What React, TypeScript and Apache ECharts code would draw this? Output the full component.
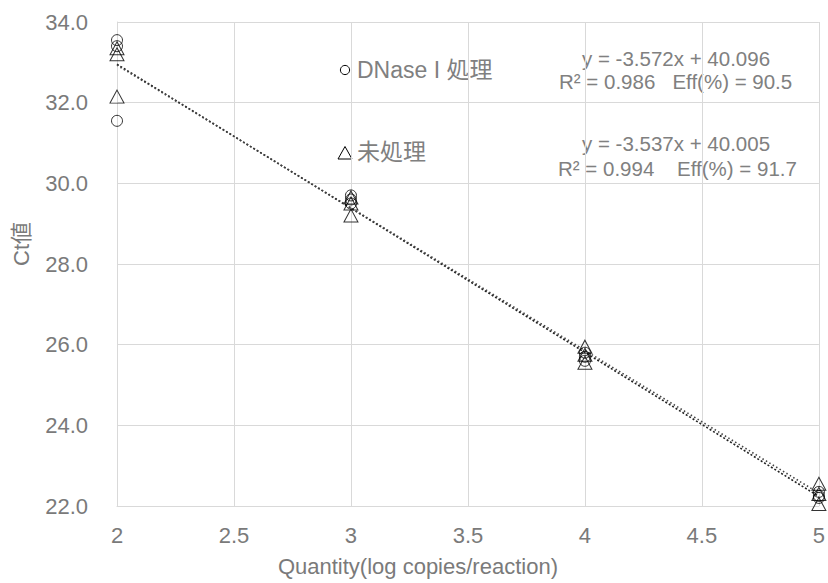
import React, { useEffect, useRef } from "react";
import * as echarts from "echarts";

const xTicks = [2, 2.5, 3, 3.5, 4, 4.5, 5];
const yTicks = [22, 24, 26, 28, 30, 32, 34];

const dnaseX = [2, 2, 2, 3, 3, 3, 4, 4, 4, 5, 5, 5];
const dnaseY = [33.55, 33.4, 31.55, 29.7, 29.6, 29.5, 25.8, 25.7, 25.6, 22.35, 22.25, 22.2];

const untreatedX = [2, 2, 2, 3, 3, 3, 4, 4, 4, 5, 5, 5];
const untreatedY = [33.35, 33.2, 32.15, 29.65, 29.5, 29.2, 25.95, 25.75, 25.55, 22.55, 22.3, 22.05];

const dnaseFit = { slope: -3.572, intercept: 40.096 };
const untreatedFit = { slope: -3.537, intercept: 40.005 };
const fitRange = [2, 5];

const dnaseEq = ["y = -3.572x + 40.096", "R² = 0.986   Eff(%) = 90.5"];
const untreatedEq = ["y = -3.537x + 40.005", "R² = 0.994    Eff(%) = 91.7"];

const legendNames = ["DNase I 処理", "未処理"];

const FONT = "'Liberation Sans', Arial, 'Noto Sans CJK JP', sans-serif";
const GRAY = "#7a7a7a";
const TGRAY = "#808080";

function fitLine(f: { slope: number; intercept: number }) {
  return fitRange.map((x) => [x, f.slope * x + f.intercept]);
}

export default function App() {
  const ref = useRef<HTMLDivElement>(null);
  useEffect(() => {
    if (!ref.current) return;
    const chart = echarts.init(ref.current, null, { renderer: "svg" });
    const marker = {
      color: "rgba(0,0,0,0)",
      borderColor: "#000",
      borderWidth: 1,
    };
    const eqStyle = { fill: TGRAY, fontSize: 20.5, fontFamily: FONT, align: "left", verticalAlign: "middle" };
    chart.setOption({
      animation: false,
      backgroundColor: "#fff",
      textStyle: { fontFamily: FONT },
      grid: { left: 117, right: 8, top: 22, bottom: 77, containLabel: false },
      xAxis: {
        type: "value",
        min: 2,
        max: 5,
        interval: 0.5,
        name: "Quantity(log copies/reaction)",
        nameLocation: "middle",
        nameGap: 49,
        nameTextStyle: { color: GRAY, fontSize: 22, fontFamily: FONT, padding: [0, 100, 0, 0] },
        axisLine: { show: true, lineStyle: { color: "#d9d9d9" } },
        axisTick: { show: false },
        axisLabel: {
          color: GRAY,
          fontSize: 22,
          margin: 18,
          fontFamily: FONT,
          formatter: (v: number) => (xTicks.includes(v) ? String(v) : ""),
        },
        splitLine: { show: true, lineStyle: { color: "#d9d9d9" } },
      },
      yAxis: {
        type: "value",
        min: 22,
        max: 34,
        interval: 2,
        name: "Ct値",
        nameLocation: "middle",
        nameGap: 85,
        nameRotate: 90,
        nameTextStyle: { color: GRAY, fontSize: 22, fontFamily: FONT, padding: [0, 0, 0, 40] },
        axisLine: { show: true, lineStyle: { color: "#d9d9d9" } },
        axisTick: { show: false },
        axisLabel: {
          color: GRAY,
          fontSize: 22,
          margin: 29,
          fontFamily: FONT,
          formatter: (v: number) => (yTicks.includes(v) ? v.toFixed(1) : ""),
        },
        splitLine: { show: true, lineStyle: { color: "#d9d9d9" } },
      },
      series: [
        {
          type: "line",
          data: fitLine(dnaseFit),
          showSymbol: false,
          symbol: "none",
          lineStyle: { color: "#222", width: 1.6, type: [2, 2] },
          z: 3,
        },
        {
          type: "line",
          data: fitLine(untreatedFit),
          showSymbol: false,
          symbol: "none",
          lineStyle: { color: "#444", width: 1.6, type: [1.5, 2.5] },
          z: 3,
        },
        {
          type: "scatter",
          name: legendNames[0],
          symbol: "circle",
          symbolSize: 11,
          itemStyle: marker,
          data: dnaseX.map((x, i) => [x, dnaseY[i]]),
          z: 4,
        },
        {
          type: "scatter",
          name: legendNames[1],
          symbol: "triangle",
          symbolSize: [14, 13],
          itemStyle: marker,
          data: untreatedX.map((x, i) => [x, untreatedY[i]]),
          z: 4,
        },
      ],
      graphic: [
        {
          type: "circle",
          shape: { cx: 345, cy: 70, r: 4.6 },
          style: { fill: "none", stroke: "#000", lineWidth: 1 },
        },
        {
          type: "text",
          x: 357,
          y: 70,
          style: { text: legendNames[0], fill: TGRAY, fontSize: 23, fontFamily: FONT, verticalAlign: "middle" },
        },
        {
          type: "polygon",
          shape: { points: [[345, 146.5], [338, 159], [352, 159]] },
          style: { fill: "none", stroke: "#000", lineWidth: 1 },
        },
        {
          type: "text",
          x: 357,
          y: 152,
          style: { text: legendNames[1], fill: TGRAY, fontSize: 23, fontFamily: FONT, verticalAlign: "middle" },
        },
        { type: "text", x: 582, y: 58, style: { ...eqStyle, text: dnaseEq[0] } },
        { type: "text", x: 559, y: 81, style: { ...eqStyle, text: dnaseEq[1] } },
        { type: "text", x: 582, y: 143, style: { ...eqStyle, text: untreatedEq[0] } },
        { type: "text", x: 558, y: 168, style: { ...eqStyle, text: untreatedEq[1] } },
      ],
    });
    return () => chart.dispose();
  }, []);
  return <div ref={ref} style={{ width: 828, height: 583, position: "absolute", left: 0, top: 0 }} />;
}
